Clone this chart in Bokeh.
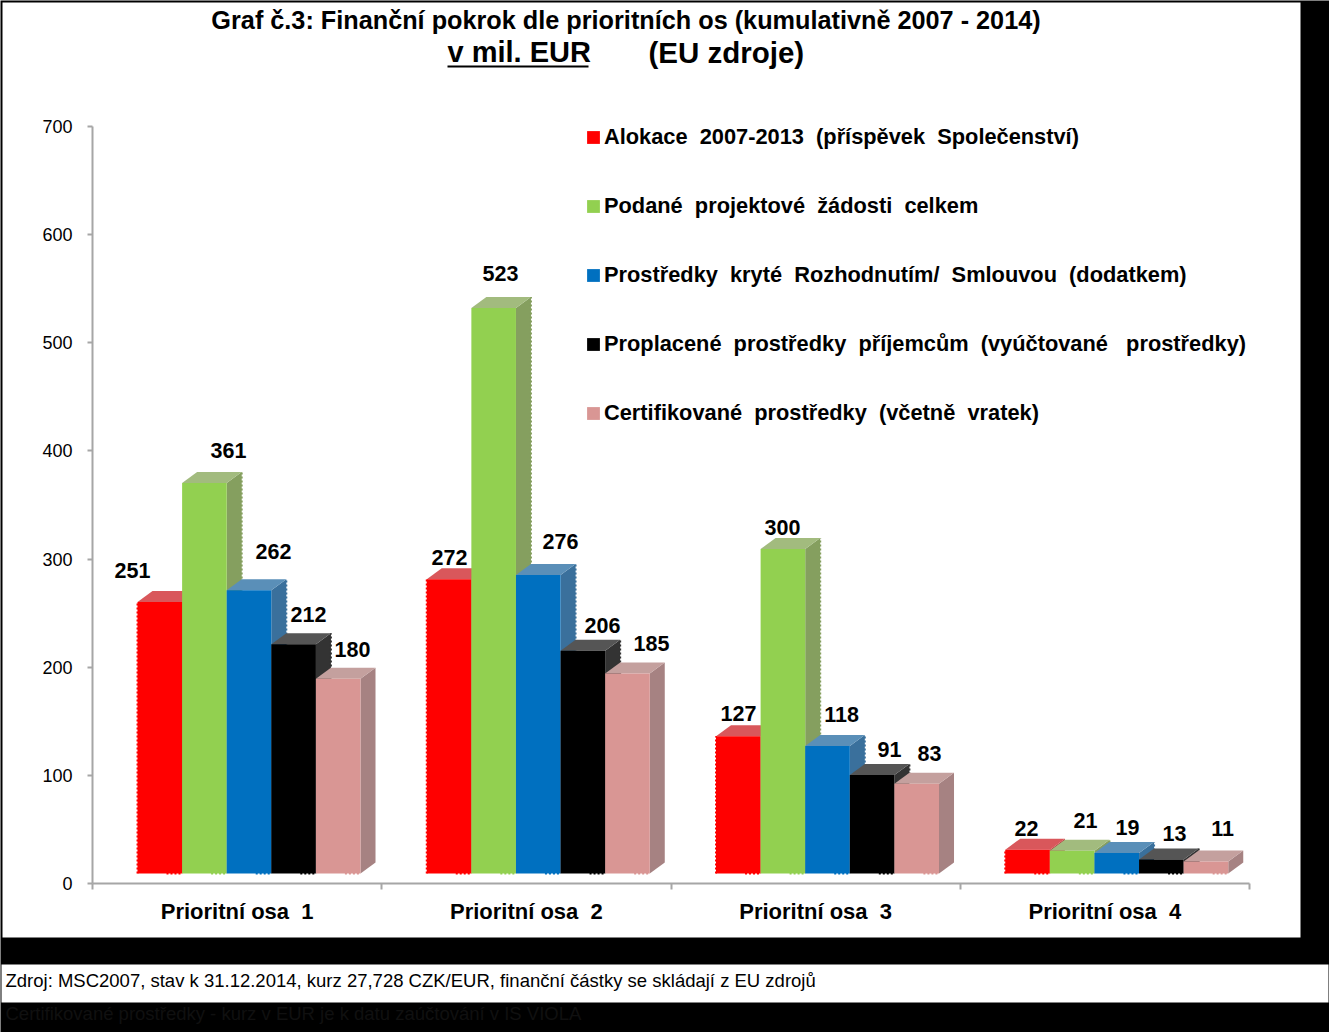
from bokeh.plotting import figure
from bokeh.models import (BoxAnnotation, ColumnDataSource, FixedTicker, Label, Legend, LegendItem, Range1d)
from bokeh.embed import file_html
from bokeh.resources import INLINE

categories = ["Prioritní osa 1", "Prioritní osa 2", "Prioritní osa 3", "Prioritní osa 4"]
series_names = [
    "Alokace  2007-2013  (příspěvek  Společenství)",
    "Podané  projektové  žádosti  celkem",
    "Prostředky  kryté  Rozhodnutím/  Smlouvou  (dodatkem)",
    "Proplacené  prostředky  příjemcům  (vyúčtované   prostředky)",
    "Certifikované  prostředky  (včetně  vratek)",
]
alokace = [251, 272, 127, 22]
podane = [361, 523, 300, 21]
kryte = [262, 276, 118, 19]
proplacene = [212, 206, 91, 13]
certifikovane = [180, 185, 83, 11]
series_values = [alokace, podane, kryte, proplacene, certifikovane]

front_colors = ["#ff0000", "#92d050", "#0070c0", "#000000", "#d99694"]
top_colors = ["#d9575b", "#a2bb7e", "#5a8fb8", "#555555", "#c4a09e"]
side_colors = ["#b83a3a", "#859f5f", "#3a709c", "#333333", "#a68282"]

# layout (pixels of the page)
FL, FR, FT, FB = 92.0, 1249.0, 126.0, 883.0
W, H = 1329, 1032
X = lambda px: (px - FL) / (FR - FL) * 4
Y = lambda py: (FB - py) / (FB - FT) * 700

BAR_W = 0.1542
BAR_X0 = 0.1556
FLOOR = 9.25          # front face floats above the axis
DX = 15 / ((FR - FL) / 4)
DY = 11 / ((FB - FT) / 700)
FONT = "Liberation Sans"

p = figure(width=W, height=H, output_backend="svg", toolbar_location=None,
           x_range=Range1d(X(0), X(W)), y_range=Range1d(Y(H), Y(0)),
           min_border=0, background_fill_color="#000000", border_fill_color="#000000",
           outline_line_color=None, margin=0)
p.grid.visible = False

for l, r, t, b in [(2, 1300, 2, 937), (1, 1328, 964, 1002)]:
    p.add_layout(BoxAnnotation(left=X(l), right=X(r), top=Y(t), bottom=Y(b),
                               fill_color="#ffffff", fill_alpha=1, line_color=None,
                               level="underlay"))

ya = p.yaxis[0]
ya.fixed_location = 0
ya.bounds = (0, 700)
ya.ticker = FixedTicker(ticks=[0, 100, 200, 300, 400, 500, 600, 700])
ya.axis_line_color = ya.major_tick_line_color = "#a6a6a6"
ya.axis_line_width = ya.major_tick_line_width = 2
ya.major_tick_in, ya.major_tick_out = 0, 5
ya.minor_tick_line_color = None
ya.major_label_standoff = 15
ya.major_label_text_font = FONT
ya.major_label_text_font_size = "18px"
ya.major_label_text_color = "#000000"

xa = p.xaxis[0]
xa.fixed_location = 0
xa.bounds = (0, 4)
xa.ticker = FixedTicker(ticks=[i + 0.5 for i in range(4)], minor_ticks=[0, 1, 2, 3, 4])
xa.major_label_overrides = {i + 0.5: c.replace(" osa ", " osa\u00a0\u00a0") for i, c in enumerate(categories)}
xa.axis_line_color = xa.minor_tick_line_color = "#a6a6a6"
xa.axis_line_width = xa.minor_tick_line_width = 2
xa.major_tick_line_color = None
xa.minor_tick_in, xa.minor_tick_out = 0, 6
xa.major_label_standoff = 9
xa.major_label_text_font = FONT
xa.major_label_text_font_style = "bold"
xa.major_label_text_font_size = "22px"
xa.major_label_text_color = "#000000"

legend_items = []
for s, vals in enumerate(series_values):
    x0 = [g + BAR_X0 + s * BAR_W for g in range(4)]
    x1 = [a + BAR_W for a in x0]
    top = [v + FLOOR for v in vals]
    side = dict(xs=[[b, b + DX, b + DX, b] for b in x1],
                ys=[[FLOOR, FLOOR + DY, t + DY, t] for t in top])
    lid = dict(xs=[[a, a + DX, b + DX, b] for a, b in zip(x0, x1)],
               ys=[[t, t + DY, t + DY, t] for t in top])
    p.patches("xs", "ys", source=ColumnDataSource(side), fill_color=side_colors[s], line_color=None)
    if s in (1, 2, 3):   # the frayed back edge of the side wall
        p.segment([b + DX for b in x1], [FLOOR + DY] * 4, [b + DX for b in x1], [t + DY for t in top],
                  line_color=side_colors[s], line_width=2, line_dash="2 2")
    p.patches("xs", "ys", source=ColumnDataSource(lid), fill_color=top_colors[s], line_color=None)
    q = p.quad(left=x0, right=x1, bottom=[FLOOR] * 4, top=top,
               fill_color=front_colors[s], line_color=None)
    # frayed right part of the bottom edge, as in the picture
    p.segment([a + BAR_W * 0.65 for a in x0], [FLOOR] * 4, x1, [FLOOR] * 4,
              line_color=front_colors[s], line_width=2, line_dash="2 2")
    if s == 0:
        p.segment(x0, [FLOOR] * 4, x0, top, line_color=front_colors[s], line_width=2, line_dash="2 2")
    legend_items.append(LegendItem(label=series_names[s], renderers=[q]))

legend = Legend(items=legend_items, location=(585, 606), orientation="vertical",
                background_fill_alpha=0, border_line_color=None,
                padding=0, margin=0, spacing=43, glyph_width=16, glyph_height=16,
                label_standoff=3, label_height=26,
                label_text_font=FONT, label_text_font_style="bold",
                label_text_font_size="21.8px", label_text_color="#000000")
p.add_layout(legend, "center")

# value labels: page position of each label, group by group
label_px = [
    [(132, 570), (228, 450), (273, 551), (308, 614), (352, 649)],
    [(449, 557), (500, 273), (560, 541), (602, 625), (651, 643)],
    [(738, 713), (782, 527), (841, 714), (889, 749), (929, 753)],
    [(1026, 828), (1085, 820), (1127, 827), (1174, 833), (1222, 828)],
]
for g in range(4):
    for s in range(5):
        px, py = label_px[g][s]
        p.add_layout(Label(x=X(px), y=Y(py), text=str(series_values[s][g]), text_font=FONT,
                           text_font_style="bold", text_font_size="21.5px", text_color="#000000",
                           text_align="center", text_baseline="middle"))

def note(text, px, py, size, style="normal", color="#000000", align="left"):
    p.add_layout(Label(x=X(px), y=Y(py), text=text, text_font=FONT, text_font_style=style,
                       text_font_size=size, text_color=color, text_align=align,
                       text_baseline="middle"))

note("Graf č.3: Finanční pokrok dle prioritních os (kumulativně 2007 - 2014)", 625.5, 19.5, "25.25px", "bold", align="center")
note("v mil. EUR", 447, 51.5, "29px", "bold")
note("(EU zdroje)", 648, 51.5, "29.5px", "bold")
p.add_layout(BoxAnnotation(left=X(447), right=X(588), top=Y(65), bottom=Y(67), fill_color="#000000",
                           fill_alpha=1, line_color=None, level="underlay"))
note("Zdroj: MSC2007, stav k 31.12.2014, kurz 27,728 CZK/EUR, finanční částky se skládají z EU zdrojů", 5, 980, "18.5px")
note("Certifikované prostředky - kurz v EUR je k datu zaúčtování v IS VIOLA", 5, 1013, "18.5px", color="#101010")

open("out.html", "w").write(file_html(p, INLINE))
